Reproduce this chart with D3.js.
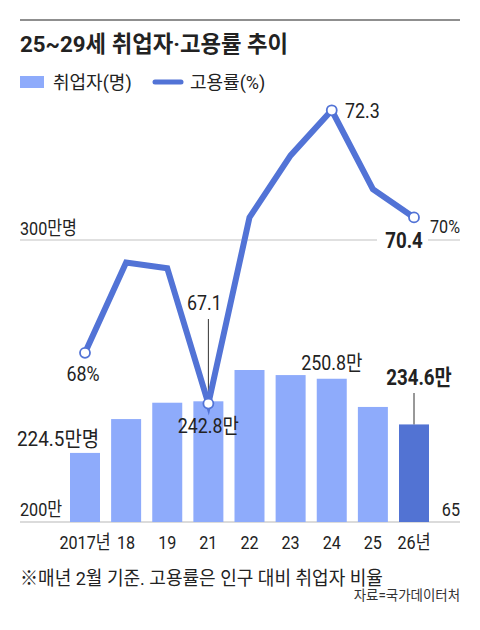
<!DOCTYPE html>
<html>
<head>
<meta charset="utf-8">
<script src="https://cdn.jsdelivr.net/npm/d3@7"></script>
<style>
  html, body { margin: 0; padding: 0; background: #fff; }
  svg text { font-family: "Roboto", "Noto Sans CJK KR", sans-serif; fill: #222; }
</style>
</head>
<body>
<div id="chart"></div>
<script>
// data
var years = ["2017년", "18", "19", "21", "22", "23", "24", "25", "26년"];
var workers = [224.5, 236.5, 242.3, 242.8, 253.9, 252.1, 250.8, 240.8, 234.6];   // 만명
var rate = [68.0, 69.6, 69.5, 67.1, 70.4, 71.5, 72.3, 70.9, 70.4];               // %
var markerIdx = [0, 3, 6, 8];

var W = 480, H = 630;
var sx = 0.85;   // narrow look of the original typeface

var svg = d3.select("#chart").append("svg")
    .attr("width", W)
    .attr("height", H);

var x = d3.scalePoint().domain(years).range([85, 414]);
var yBar = d3.scaleLinear().domain([200, 300]).range([522, 240]);
var yLine = d3.scaleLinear().domain([65, 70]).range([522, 240]);
var barW = 30;

function label(txt, px, py, size, anchor, opts) {
    opts = opts || {};
    var t = svg.append("text")
        .attr("transform", "translate(" + px + "," + py + ") scale(" + (opts.sx || sx) + ",1)")
        .attr("text-anchor", anchor)
        .style("font-size", size + "px")
        .style("font-weight", opts.bold ? "700" : "400")
        .text(txt);
    if (opts.fill) t.style("fill", opts.fill);
    return t;
}

// top rule + title
svg.append("line").attr("x1", 20).attr("x2", 460).attr("y1", 20).attr("y2", 20)
    .attr("stroke", "#8f8f8f").attr("stroke-width", 2);
label("25~29세 취업자·고용률 추이", 20, 52, 23, "start", { bold: true, sx: 0.97 });

// legend
svg.append("rect").attr("x", 20).attr("y", 76).attr("width", 24).attr("height", 12).attr("fill", "#8eabfb");
label("취업자(명)", 53, 89, 18, "start", { sx: 1 });
svg.append("line").attr("x1", 155).attr("x2", 181).attr("y1", 82).attr("y2", 82)
    .attr("stroke", "#5273d6").attr("stroke-width", 5).attr("stroke-linecap", "round");
label("고용률(%)", 190, 89, 18, "start", { sx: 1 });

// grid line at 300만 / 70%
svg.append("line").attr("x1", 20).attr("x2", 460).attr("y1", yBar(300)).attr("y2", yBar(300))
    .attr("stroke", "#d6d6d6").attr("stroke-width", 1.5);
svg.append("line").attr("x1", 20).attr("x2", 460).attr("y1", yBar(200)).attr("y2", yBar(200))
    .attr("stroke", "#cfcfcf").attr("stroke-width", 1.5);

label("300만명", 20, 235, 19, "start");
label("70%", 460, 233, 19, "end");
label("200만", 20, 516, 19, "start");
label("65", 460, 516, 19, "end");

// bars
svg.selectAll("rect.bar")
    .data(workers)
    .enter().append("rect")
    .attr("class", "bar")
    .attr("x", function(d, i) { return x(years[i]) - barW / 2; })
    .attr("y", function(d) { return yBar(d); })
    .attr("width", barW)
    .attr("height", function(d) { return yBar(200) - yBar(d); })
    .attr("fill", function(d, i) { return i == workers.length - 1 ? "#5273d3" : "#8eabfb"; });

// x labels
svg.selectAll("text.xl")
    .data(years)
    .enter().append("text")
    .attr("class", "xl")
    .attr("transform", function(d) { return "translate(" + x(d) + ",549) scale(" + sx + ",1)"; })
    .attr("text-anchor", "middle")
    .style("font-size", "19px")
    .text(function(d) { return d; });

// leader lines
svg.append("line").attr("x1", x(years[3])).attr("x2", x(years[3]))
    .attr("y1", 319).attr("y2", yLine(rate[3]) - 5).attr("stroke", "#333").attr("stroke-width", 1);
svg.append("line").attr("x1", x(years[8])).attr("x2", x(years[8]))
    .attr("y1", 393).attr("y2", yBar(workers[8])).attr("stroke", "#333").attr("stroke-width", 1);

// rate line
var line = d3.line()
    .x(function(d, i) { return x(years[i]); })
    .y(function(d) { return yLine(d); });

svg.append("path")
    .datum(rate)
    .attr("d", line)
    .attr("fill", "none")
    .attr("stroke", "#5273d6")
    .attr("stroke-width", 6)
    .attr("stroke-linejoin", "miter");

svg.selectAll("circle.mk")
    .data(markerIdx)
    .enter().append("circle")
    .attr("class", "mk")
    .attr("cx", function(i) { return x(years[i]); })
    .attr("cy", function(i) { return yLine(rate[i]); })
    .attr("r", 5)
    .attr("fill", "#fff")
    .attr("stroke", "#5273d6")
    .attr("stroke-width", 1.8);

// value labels
label(rate[0] + "%", x(years[0]) - 2, 381, 21, "middle");
label(rate[3].toFixed(1), x(years[3]) - 4, 310, 21, "middle");
label(rate[6].toFixed(1), 345, 118, 21, "start");

svg.append("rect").attr("x", 377).attr("y", 232).attr("width", 51).attr("height", 20).attr("fill", "#fff");
label(rate[8].toFixed(1), 404, 248, 22, "middle", { bold: true });

label(workers[0] + "만명", 17, 446, 21, "start", { sx: 0.9 });
label(workers[3] + "만", x(years[3]), 433, 21, "middle");
label(workers[6] + "만", x(years[6]), 370, 21, "middle");
label(workers[8] + "만", 419, 385, 22, "middle", { bold: true });

// notes
label("※매년 2월 기준. 고용률은 인구 대비 취업자 비율", 20, 585, 19, "start", { sx: 0.95 });
label("자료=국가데이터처", 460, 600, 14, "end", { sx: 0.96, fill: "#333" });
</script>
</body>
</html>
